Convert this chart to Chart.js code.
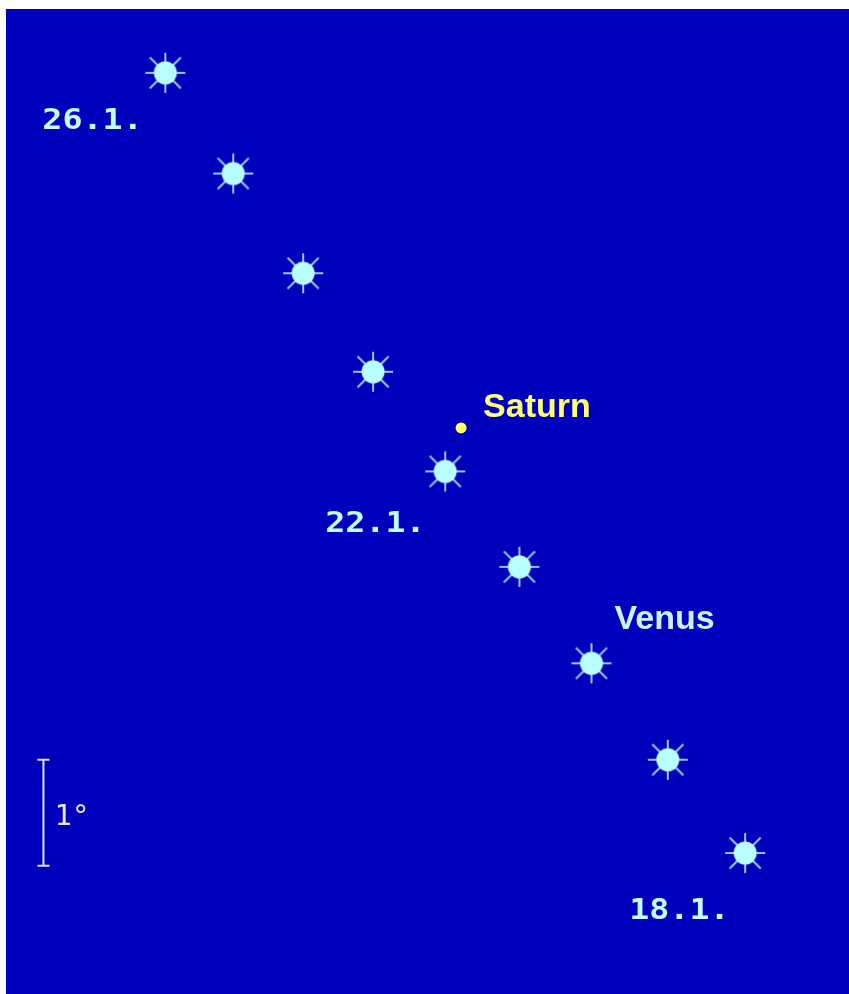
<!DOCTYPE html>
<html>
<head>
<meta charset="utf-8">
<script src="https://cdn.jsdelivr.net/npm/chart.js@4"></script>
<style>
    body { margin: 0; background: #ffffff; }
    #wrap { position: relative; width: 849px; height: 994px; }
</style>
</head>
<body>
<div id="wrap"><canvas id="venus_chart"></canvas></div>
<script>
// positions in degrees (1 unit = 1 degree), x to the right, y upwards
var arrDates = ['18.1.', '19.1.', '20.1.', '21.1.', '22.1.', '23.1.', '24.1.', '25.1.', '26.1.'];
var arrVenusX = [7.03, 6.30, 5.58, 4.90, 4.20, 3.52, 2.86, 2.20, 1.56];
var arrVenusY = [1.33, 2.21, 3.12, 4.03, 4.93, 5.87, 6.80, 7.74, 8.69];
var arrLabelledDates = ['26.1.', '22.1.', '18.1.'];
var arrSaturnX = [4.35];
var arrSaturnY = [5.34];
var arrScaleBarX = [0.41, 0.41];
var arrScaleBarY = [2.21, 1.21];
var strScaleText = '1°';

var PX_PER_DEG = 106;

// label offsets in pixels from the point they belong to
var objDateOffsets = {
    '26.1.': [-123, 56],
    '22.1.': [-120, 61],
    '18.1.': [-116, 66]
};

function makeStar() {
    var c = document.createElement('canvas');
    c.width = 48;
    c.height = 48;
    var g = c.getContext('2d');
    g.strokeStyle = '#90ccff';
    g.lineWidth = 2;
    for (var i = 0; i < 8; i++) {
        var a = i * Math.PI / 4;
        var r = (i % 2) ? 22 : 20;
        g.beginPath();
        g.moveTo(24, 24);
        g.lineTo(24 + Math.cos(a) * r, 24 + Math.sin(a) * r);
        g.stroke();
    }
    g.fillStyle = '#b8ffff';
    g.beginPath();
    g.arc(24, 24, 11.5, 0, Math.PI * 2);
    g.fill();
    return c;
}

const toPoints = (arrX, arrY) => arrX.map((x, i) => ({ x: x, y: arrY[i] }));

function drawText(ctx, str, x, y, font, color, stretch) {
    ctx.save();
    ctx.font = font;
    ctx.fillStyle = color;
    ctx.textBaseline = 'alphabetic';
    ctx.textAlign = 'left';
    ctx.translate(x, y);
    ctx.scale(stretch || 1, 1);
    ctx.fillText(str, 0, 0);
    ctx.restore();
}

var bgPlugin = {
    id: 'skyBackground',
    beforeDraw: function (chart) {
        var a = chart.chartArea;
        var ctx = chart.ctx;
        ctx.save();
        ctx.fillStyle = '#0000bc';
        ctx.fillRect(a.left, a.top, a.right - a.left, a.bottom - a.top);
        ctx.restore();
    }
};

var labelPlugin = {
    id: 'skyLabels',
    afterDatasetsDraw: function (chart) {
        var ctx = chart.ctx;
        var sx = chart.scales.x;
        var sy = chart.scales.y;

        arrLabelledDates.forEach(function (strDate) {
            var i = arrDates.indexOf(strDate);
            var off = objDateOffsets[strDate];
            drawText(ctx, strDate,
                sx.getPixelForValue(arrVenusX[i]) + off[0],
                sy.getPixelForValue(arrVenusY[i]) + off[1],
                'bold 29px "DejaVu Sans Mono"', '#c0ffff', 1.15);
        });

        // Venus name next to 20.1.
        var iV = arrDates.indexOf('20.1.');
        drawText(ctx, 'Venus',
            sx.getPixelForValue(arrVenusX[iV]) + 23,
            sy.getPixelForValue(arrVenusY[iV]) - 34,
            'bold 34px "Liberation Sans"', '#c4f4ff');

        drawText(ctx, 'Saturn',
            sx.getPixelForValue(arrSaturnX[0]) + 22,
            sy.getPixelForValue(arrSaturnY[0]) - 11,
            'bold 34px "Liberation Sans"', '#ffff70');

        var yMid = (arrScaleBarY[0] + arrScaleBarY[1]) / 2;
        drawText(ctx, strScaleText,
            sx.getPixelForValue(arrScaleBarX[0]) + 11,
            sy.getPixelForValue(yMid) + 12,
            '29px "DejaVu Sans Mono"', '#e8e8ff');
    }
};

var ctx = document.getElementById('venus_chart').getContext('2d');
var objChart = new Chart(ctx, {
    type: 'scatter',
    data: {
        datasets: [
            {
                label: 'Venus',
                data: toPoints(arrVenusX, arrVenusY),
                pointStyle: makeStar(),
                pointRadius: 24
            },
            {
                label: 'Saturn',
                data: toPoints(arrSaturnX, arrSaturnY),
                pointStyle: 'circle',
                pointRadius: 5.5,
                pointBorderWidth: 0,
                backgroundColor: '#ffff60',
                borderColor: '#ffff60'
            },
            {
                label: 'scale',
                data: toPoints(arrScaleBarX, arrScaleBarY),
                showLine: true,
                borderColor: '#e0e0f0',
                borderWidth: 2,
                pointStyle: 'line',
                pointRadius: 6,
                pointBorderWidth: 2,
                pointBorderColor: '#e0e0f0'
            }
        ]
    },
    options: {
        animation: false,
        responsive: true,
        maintainAspectRatio: false,
        clip: false,
        layout: {
            autoPadding: false,
            padding: { left: 6, top: 9, right: 0, bottom: 0 }
        },
        plugins: {
            legend: { display: false },
            tooltip: { enabled: false }
        },
        scales: {
            x: {
                type: 'linear',
                display: false,
                min: 6 / PX_PER_DEG,
                max: 849 / PX_PER_DEG
            },
            y: {
                type: 'linear',
                display: false,
                min: 0,
                max: 985 / PX_PER_DEG
            }
        }
    },
    plugins: [bgPlugin, labelPlugin]
});
</script>
</body>
</html>
